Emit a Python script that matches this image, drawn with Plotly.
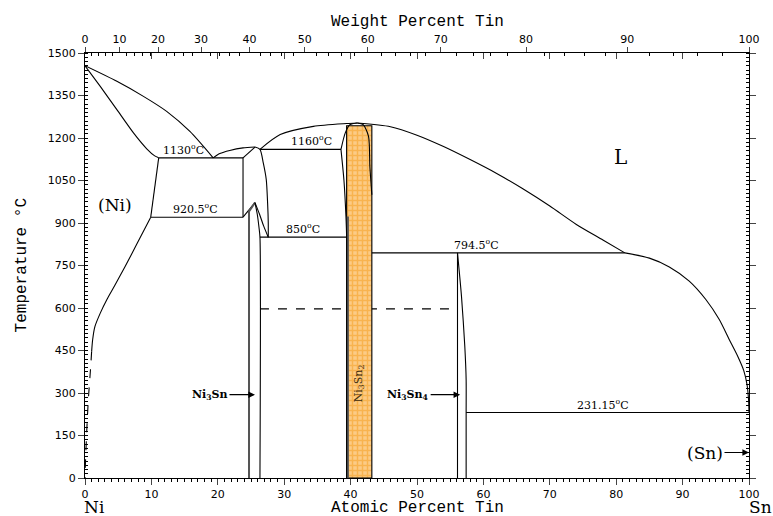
import plotly.graph_objects as go

# ---------------- data (atomic % Sn, temperature in deg C) ----------------
ni_liquidus_x = [0, 4.8, 8.8, 12.3, 15.8, 19.3]
ni_liquidus_t = [1455, 1400, 1347, 1294, 1223, 1130]

ni_solidus_x = [0, 2.3, 4.8, 7.3, 9.3, 10.5, 11.1]
ni_solidus_t = [1455, 1382, 1300, 1218, 1162, 1137, 1130]

ni_solvus_hi_x = [11.1, 9.9]
ni_solvus_hi_t = [1130, 920.5]

ni_solvus_x = [9.9, 7.9, 6.0, 4.5, 3.3, 2.3, 1.5, 1.15, 1.0]
ni_solvus_t = [920.5, 830, 745, 680, 630, 582, 535, 488, 447]

ni_solvus_dash_x = [1.0, 0.86, 0.5, 0.25, 0.05, 0]
ni_solvus_dash_t = [447, 394, 276, 159, 41, 0]

ni3sn_liq_x = [19.3, 20.3, 21.8, 23.8, 25.6]
ni3sn_liq_t = [1130, 1145, 1156, 1165, 1168]

ni3sn_ht_left_x = [23.8, 25.6]
ni3sn_ht_left_t = [1130, 1168]

ni3sn_ht_vert_x = [23.8, 23.8]
ni3sn_ht_vert_t = [1130, 920.5]

ni3sn_ht_right_x = [25.6, 26.35, 26.85, 27.3, 27.5, 27.6, 27.6]
ni3sn_ht_right_t = [1168, 1160, 1112, 1053, 971, 900, 850]

ni3sn_lt_rise_x = [23.8, 25.6]
ni3sn_lt_rise_t = [920.5, 972]

ni3sn_lt_left_x = [25.6, 24.7, 24.7]
ni3sn_lt_left_t = [972, 941, 0]

ni3sn_lt_right_x = [25.6, 25.95, 26.2, 26.35, 26.35]
ni3sn_lt_right_t = [972, 930, 885, 850, 0]

ni3sn_ht_lt_x = [25.6, 26.3, 26.9, 27.6]
ni3sn_ht_lt_t = [972, 930, 890, 850]

ni3sn2_liq_left_x = [26.35, 29.4, 34.4, 39.4, 41.0]
ni3sn2_liq_left_t = [1160, 1212, 1241, 1251, 1253]

ni3sn2_sol_left_x = [38.55, 39.2, 39.9, 41.0]
ni3sn2_sol_left_t = [1160, 1218, 1247, 1253]

ni3sn2_left_low_x = [38.55, 39.0, 39.3, 39.4, 39.4]
ni3sn2_left_low_t = [1160, 1050, 923, 850, 0]

ni3sn2_right_x = [41.0, 41.9, 42.7, 42.9, 43.0, 43.2]
ni3sn2_right_t = [1253, 1247, 1206, 1100, 1065, 1000]

ni3sn2_band_x = [39.4, 43.2]
ni3sn2_band_top = 1243
ni3sn2_gray_x = 39.55
ni3sn2_gray_top = 923

sn_liq_x = [41.0, 46, 50, 54, 58, 62, 66, 70, 74, 78, 81.3]
sn_liq_t = [1253, 1240, 1210, 1170, 1124, 1075, 1020, 960, 895, 840, 794.5]

sn_liq2_x = [81.3, 85, 88, 91, 93.5, 95.5, 97, 98.3, 99.2, 99.7, 99.95, 100]
sn_liq2_t = [794.5, 776, 745, 695, 630, 560, 490, 430, 380, 330, 270, 231.15]

ni3sn4_left_x = [56.1, 56.1]
ni3sn4_left_t = [0, 794.5]
ni3sn4_right_x = [56.1, 56.7, 57.2, 57.4, 57.4, 57.4]
ni3sn4_right_t = [794.5, 641, 464, 347, 231.15, 0]

iso_1130_x = [11.1, 23.8]
iso_9205_x = [9.9, 23.8]
iso_1160_x = [26.35, 38.55]
iso_850_x = [26.35, 39.4]
iso_7945_x = [43.2, 81.3]
iso_23115_x = [57.4, 100]
dash_600_x = [26.35, 56.1]
dash_600_t = 597

iso_labels = ["1130<sup>o</sup>C", "920.5<sup>o</sup>C", "1160<sup>o</sup>C",
              "850<sup>o</sup>C", "794.5<sup>o</sup>C", "231.15<sup>o</sup>C"]
iso_label_x = [14.8, 16.7, 34.1, 32.9, 58.9, 78.0]
iso_label_t = [1130, 920.5, 1160, 850, 794.5, 231.15]

wt_ticks = [0, 10, 20, 30, 40, 50, 60, 70, 80, 90, 100]
at_ticks = [0, 10, 20, 30, 40, 50, 60, 70, 80, 90, 100]
temp_ticks = [0, 150, 300, 450, 600, 750, 900, 1050, 1200, 1350, 1500]

M_NI, M_SN = 58.69, 118.71


def wt_to_at(w):
    if w >= 100:
        return 100.0
    a = w / M_SN
    b = (100 - w) / M_NI
    return 100 * a / (a + b)


fig = go.Figure()


def add(x, t, width=1.1, color="black", dash=None, smooth=False):
    line = dict(color=color, width=width, dash=dash)
    if smooth:
        line.update(shape="spline", smoothing=0.7)
    fig.add_trace(go.Scatter(x=x, y=t, mode="lines", line=line,
                             hoverinfo="skip", showlegend=False))


# dashed 600 line (under the band)
add(dash_600_x, [dash_600_t] * 2, dash="dash")

# Ni3Sn2 band
bx = [ni3sn2_band_x[0], ni3sn2_band_x[1], ni3sn2_band_x[1], ni3sn2_band_x[0], ni3sn2_band_x[0]]
bt = [0, 0, ni3sn2_band_top, ni3sn2_band_top, 0]
fig.add_trace(go.Scatter(x=bx, y=bt, mode="lines", fill="toself",
                         fillcolor="#fbc373",
                         fillpattern=dict(shape="+", fgcolor="#f39c1a", bgcolor="#fccb85",
                                          size=5, solidity=0.5),
                         line=dict(color="black", width=1.1),
                         hoverinfo="skip", showlegend=False))
add([ni3sn2_gray_x, ni3sn2_gray_x], [0, ni3sn2_gray_top], width=2.6, color="#555555")

add(ni_liquidus_x, ni_liquidus_t, smooth=True)
add(ni_solidus_x, ni_solidus_t, smooth=True)
add(ni_solvus_hi_x, ni_solvus_hi_t)
add(ni_solvus_x, ni_solvus_t, smooth=True)
add(ni_solvus_dash_x, ni_solvus_dash_t, dash="dash", smooth=True)
add(ni3sn_liq_x, ni3sn_liq_t, smooth=True)
add(ni3sn_ht_left_x, ni3sn_ht_left_t)
add(ni3sn_ht_vert_x, ni3sn_ht_vert_t)
add(ni3sn_ht_right_x, ni3sn_ht_right_t, smooth=True)
add(ni3sn_lt_rise_x, ni3sn_lt_rise_t)
add(ni3sn_lt_left_x, ni3sn_lt_left_t, width=2.0, color="#555555")
add(ni3sn_lt_right_x, ni3sn_lt_right_t, smooth=True)
add(ni3sn_ht_lt_x, ni3sn_ht_lt_t, smooth=True)
add(ni3sn2_liq_left_x, ni3sn2_liq_left_t, smooth=True)
add(ni3sn2_sol_left_x, ni3sn2_sol_left_t, smooth=True)
add(ni3sn2_left_low_x, ni3sn2_left_low_t, smooth=True)
add(ni3sn2_right_x, ni3sn2_right_t, smooth=True)
add(sn_liq_x, sn_liq_t, smooth=True)
add(sn_liq2_x, sn_liq2_t, smooth=True)
add(ni3sn4_left_x, ni3sn4_left_t)
add(ni3sn4_right_x, ni3sn4_right_t, smooth=True)

add(iso_1130_x, [1130, 1130])
add(iso_9205_x, [920.5, 920.5])
add(iso_1160_x, [1160, 1160])
add(iso_850_x, [850, 850])
add(iso_7945_x, [794.5, 794.5])
add(iso_23115_x, [231.15, 231.15])

# dummy traces for top axes
for ax in ["x2", "x3"]:
    fig.add_trace(go.Scatter(x=[0, 100], y=[0, 0], xaxis=ax, yaxis="y", mode="markers",
                             marker=dict(opacity=0), hoverinfo="skip", showlegend=False))

serif = "DejaVu Serif"
mono = "Liberation Mono"
ann = []
for txt, x, t in zip(iso_labels, iso_label_x, iso_label_t):
    ann.append(dict(x=x, y=t, text=txt, showarrow=False, yanchor="bottom",
                    font=dict(family=serif, size=11, color="black"), yshift=-1))

arrow = dict(showarrow=True, ay=0, arrowhead=2, arrowsize=1.1, arrowwidth=1.2,
             arrowcolor="black")
paper = dict(xref="paper", yref="paper", showarrow=False, xanchor="center", yanchor="middle")
ann += [
    dict(x=80.6, y=1134, text="L", showarrow=False, font=dict(family=serif, size=20, color="black")),
    dict(x=4.5, y=965, text="(Ni)", showarrow=False, font=dict(family=serif, size=17, color="black")),
    dict(x=100, y=90, text="(Sn)", ax=-44, font=dict(family=serif, size=17, color="black"), **arrow),
    dict(x=25.6, y=294, text="<b>Ni<sub>3</sub>Sn</b>", ax=-45,
         font=dict(family=serif, size=11, color="black"), **arrow),
    dict(x=56.5, y=294, text="<b>Ni<sub>3</sub>Sn<sub>4</sub></b>", ax=-52,
         font=dict(family=serif, size=11, color="black"), **arrow),
    dict(x=41.3, y=335, text="Ni<sub>3</sub>Sn<sub>2</sub>", showarrow=False, textangle=-90,
         font=dict(family=serif, size=11, color="#3a2a10")),
    dict(x=0.5015, y=-0.071, text="Atomic Percent Tin",
         font=dict(family=mono, size=16, color="black"), **paper),
    dict(x=0.5015, y=1.073, text="Weight Percent Tin",
         font=dict(family=mono, size=16, color="black"), **paper),
    dict(x=-0.095, y=0.50, text="Temperature °C", textangle=-90,
         font=dict(family=mono, size=16, color="black"), **paper),
    dict(x=0.015, y=-0.068, text="Ni", font=dict(family=serif, size=17, color="black"), **paper),
    dict(x=1.017, y=-0.068, text="Sn", font=dict(family=serif, size=17, color="black"), **paper),
]

tickfont = dict(family="DejaVu Sans", size=11, color="black")
wt_pos = [wt_to_at(w) for w in wt_ticks]
wt_minor = [wt_to_at(w) for w in range(0, 101, 2) if w % 10 != 0]

fig.update_layout(
    width=773, height=516,
    margin=dict(l=85, r=24, t=53, b=38),
    plot_bgcolor="white", paper_bgcolor="white",
    showlegend=False,
    xaxis=dict(range=[0, 100], tickvals=at_ticks, ticks="outside", ticklen=6, tickwidth=1,
               showline=True, linecolor="black", linewidth=1, showgrid=False, zeroline=False,
               tickfont=tickfont, mirror=False,
               minor=dict(dtick=1, ticks="outside", ticklen=3, tickcolor="black")),
    xaxis2=dict(range=[0, 100], overlaying="x", side="top", tickvals=wt_pos,
                ticktext=[str(w) for w in wt_ticks], ticks="outside", ticklen=5,
                showline=True, linecolor="black", linewidth=1, showgrid=False, zeroline=False,
                tickfont=tickfont,
                minor=dict(tickmode="array", tickvals=wt_minor, ticks="inside", ticklen=3,
                           tickcolor="black")),
    xaxis3=dict(range=[0, 100], overlaying="x", side="top", tickvals=at_ticks, ticks="inside",
                ticklen=6, showticklabels=False, showline=False, showgrid=False, zeroline=False),
    yaxis=dict(range=[0, 1500], tickvals=temp_ticks, ticks="outside", ticklen=6,
               showline=True, linecolor="black", linewidth=1, mirror="ticks",
               showgrid=False, zeroline=False, tickfont=tickfont,
               minor=dict(dtick=15, ticks="inside", ticklen=3, tickcolor="black")),
    annotations=ann,
)

# remove the page's default body margin so the figure sits at the window's corner
fig.write_html("out.html", config={"displayModeBar": False},
               post_script="document.body.style.margin='0';document.body.style.overflow='hidden';")
